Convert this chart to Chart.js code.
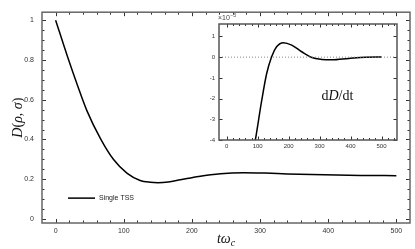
<!DOCTYPE html>
<html>
<head>
<meta charset="utf-8">
<script src="https://cdn.jsdelivr.net/npm/chart.js@4/dist/chart.umd.min.js"></script>
<style>
  html, body { margin: 0; padding: 0; background: #fff; }
  #wrap { position: relative; width: 415px; height: 249px; }
  #main { position: absolute; left: 0; top: 0; }
  #inset { position: absolute; left: 200px; top: 10px; }
</style>
</head>
<body>
<div id="wrap">
  <canvas id="main" width="415" height="249"></canvas>
  <canvas id="inset" width="202" height="142"></canvas>
</div>
<script>
// ---------- data ----------
const timeMain = [0, 17, 32, 46, 66, 85, 105, 124, 139, 150, 165, 183, 210, 242, 275, 307, 340, 394, 448, 500];
const dMain    = [1.0, 0.821, 0.673, 0.544, 0.403, 0.299, 0.2295, 0.194, 0.185, 0.183, 0.186, 0.197, 0.214, 0.228, 0.233, 0.231, 0.227, 0.222, 0.219, 0.218];

const timeInset = [0, 20, 40, 60, 80, 93, 113, 129, 145, 161, 183, 210, 242, 275, 307, 340, 394, 448, 500];
const dInset    = [-11, -9.5, -7.8, -6.2, -5.0, -3.95, -2.09, -0.79, 0.02, 0.5, 0.70, 0.58, 0.26, -0.02, -0.11, -0.13, -0.06, 0.0, 0.01];

const mainXTicks = [0, 100, 200, 300, 400, 500];
const mainYTicks = [0, 0.2, 0.4, 0.6, 0.8, 1];
const mainXMinor = [20, 40, 60, 80, 120, 140, 160, 180, 220, 240, 260, 280, 320, 340, 360, 380, 420, 440, 460, 480];
const mainYMinor = [0.05, 0.1, 0.15, 0.25, 0.3, 0.35, 0.45, 0.5, 0.55, 0.65, 0.7, 0.75, 0.85, 0.9, 0.95];

const insetXTicks = [0, 100, 200, 300, 400, 500];
const insetYTicks = [-4, -3, -2, -1, 0, 1];
const insetXMinor = [20, 40, 60, 80, 120, 140, 160, 180, 220, 240, 260, 280, 320, 340, 360, 380, 420, 440, 460, 480, 520, 540];
const insetZeroX = [-25, 550];
const insetZeroY = [0, 0];

const legendLabel = 'Single TSS';

// ---------- helpers ----------
const pts = (xs, ys) => xs.map((v, i) => ({ x: v, y: ys[i] }));
const plainLabel = v => String(v);

function inwardTicks(cfg) {
  return {
    id: 'inwardTicks',
    afterDatasetsDraw(chart) {
      const { ctx, chartArea: a, scales: { x, y } } = chart;
      ctx.save();
      ctx.strokeStyle = cfg.tickColor;
      ctx.lineWidth = 1;
      const seg = (x1, y1, x2, y2) => { ctx.beginPath(); ctx.moveTo(x1, y1); ctx.lineTo(x2, y2); ctx.stroke(); };
      const doX = (vals, len) => vals.forEach(v => {
        const p = Math.round(x.getPixelForValue(v)) + 0.5;
        seg(p, a.bottom, p, a.bottom - len);
        seg(p, a.top, p, a.top + len);
      });
      const doY = (vals, len) => vals.forEach(v => {
        const p = Math.round(y.getPixelForValue(v)) + 0.5;
        seg(a.left, p, a.left + len, p);
        seg(a.right, p, a.right - len, p);
      });
      doX(cfg.xMajor, cfg.major); doX(cfg.xMinor, cfg.minor);
      doY(cfg.yMajor, cfg.major); doY(cfg.yMinor, cfg.minor);
      // frame
      ctx.strokeStyle = cfg.frameColor;
      ctx.lineWidth = cfg.frameWidth;
      ctx.strokeRect(a.left, a.top, a.right - a.left, a.bottom - a.top);
      ctx.restore();
    }
  };
}

function fixedTicks(values) {
  return function (scale) { scale.ticks = values.map(v => ({ value: v })); };
}

// ---------- main chart ----------
const mainDecor = {
  id: 'mainDecor',
  afterDraw(chart) {
    const { ctx, chartArea: a } = chart;
    ctx.save();
    // legend
    const ly = a.top + (a.bottom - a.top) * 0.882;
    const lx = a.left + 26;
    ctx.strokeStyle = '#000';
    ctx.lineWidth = 1.5;
    ctx.beginPath(); ctx.moveTo(lx, ly); ctx.lineTo(lx + 27, ly); ctx.stroke();
    ctx.fillStyle = '#222';
    ctx.font = '7px "Liberation Sans", Arial, sans-serif';
    ctx.textBaseline = 'middle';
    ctx.textAlign = 'left';
    ctx.fillText(legendLabel, lx + 31, ly);

    // y title  D(ρ, σ)
    ctx.fillStyle = '#111';
    ctx.translate(18, (a.top + a.bottom) / 2);
    ctx.rotate(-Math.PI / 2);
    const parts = [['D', 'italic 14px "Liberation Serif", serif'], ['(', '14px "Liberation Serif", serif'],
                   ['ρ', 'italic 14px "Liberation Serif", serif'], [', ', '14px "Liberation Serif", serif'],
                   ['σ', 'italic 14px "Liberation Serif", serif'], [')', '14px "Liberation Serif", serif']];
    let w = 0;
    parts.forEach(p => { ctx.font = p[1]; w += ctx.measureText(p[0]).width; });
    let cx = -w / 2;
    parts.forEach(p => { ctx.font = p[1]; ctx.fillText(p[0], cx, 0); cx += ctx.measureText(p[0]).width; });
    ctx.restore();

    // x title  tω_c
    ctx.save();
    ctx.fillStyle = '#111';
    ctx.textBaseline = 'alphabetic';
    ctx.textAlign = 'left';
    const mainF = 'italic 14px "Liberation Serif", serif';
    const subF = 'italic 10px "Liberation Serif", serif';
    ctx.font = mainF; const w1 = ctx.measureText('tω').width;
    ctx.font = subF; const w2 = ctx.measureText('c').width;
    const sx = (a.left + a.right) / 2 - (w1 + w2) / 2;
    const base = 243;
    ctx.font = mainF; ctx.fillText('tω', sx, base);
    ctx.font = subF; ctx.fillText('c', sx + w1, base + 3);
    ctx.restore();
  }
};

new Chart(document.getElementById('main'), {
  type: 'line',
  data: {
    datasets: [{
      label: legendLabel,
      data: pts(timeMain, dMain),
      borderColor: '#000',
      borderWidth: 1.5,
      pointRadius: 0,
      fill: false,
      cubicInterpolationMode: 'monotone'
    }]
  },
  options: {
    responsive: false,
    animation: false,
    events: [],
    layout: { autoPadding: false, padding: { top: 4, right: 5, left: 0, bottom: 0 } },
    plugins: { legend: { display: false }, tooltip: { enabled: false } },
    scales: {
      x: {
        type: 'linear', min: -20, max: 520,
        afterBuildTicks: fixedTicks(mainXTicks),
        afterFit: s => { s.height = 26; },
        grid: { display: false, drawTicks: false },
        border: { display: false },
        ticks: { callback: plainLabel, color: '#333', font: { family: '"Liberation Sans", Arial, sans-serif', size: 7 }, padding: 4, maxRotation: 0 }
      },
      y: {
        type: 'linear', min: -0.02, max: 1.04,
        afterBuildTicks: fixedTicks(mainYTicks),
        afterFit: s => { s.width = 42; },
        grid: { display: false, drawTicks: false },
        border: { display: false },
        ticks: { callback: plainLabel, color: '#333', font: { family: '"Liberation Sans", Arial, sans-serif', size: 7 }, padding: 8 }
      }
    }
  },
  plugins: [inwardTicks({ xMajor: mainXTicks, xMinor: mainXMinor, yMajor: mainYTicks, yMinor: mainYMinor,
                          major: 4, minor: 2.5, tickColor: '#333', frameColor: '#666', frameWidth: 1.5 }), mainDecor]
});

// ---------- inset chart ----------
const insetDecor = {
  id: 'insetDecor',
  afterDraw(chart) {
    const { ctx, chartArea: a } = chart;
    ctx.save();
    // ×10^-3
    ctx.fillStyle = '#444';
    ctx.textBaseline = 'alphabetic';
    ctx.font = '7px "Liberation Sans", Arial, sans-serif';
    const bx = a.left - 1;
    ctx.fillText('×10', bx, a.top - 4);
    const wb = ctx.measureText('×10').width;
    ctx.font = '5px "Liberation Sans", Arial, sans-serif';
    ctx.fillText('−3', bx + wb + 0.5, a.top - 7);

    // dD/dt label
    ctx.fillStyle = '#111';
    const up = '14px "Liberation Serif", serif';
    const it = 'italic 14px "Liberation Serif", serif';
    const parts = [['d', up], ['D', it], ['/', up], ['dt', up]];
    let w = 0;
    parts.forEach(p => { ctx.font = p[1]; w += ctx.measureText(p[0]).width; });
    let cx = a.left + (a.right - a.left) * 0.665 - w / 2;
    const cy = a.top + (a.bottom - a.top) * 0.62;
    ctx.textBaseline = 'middle';
    parts.forEach(p => { ctx.font = p[1]; ctx.fillText(p[0], cx, cy); cx += ctx.measureText(p[0]).width; });
    ctx.restore();
  }
};

new Chart(document.getElementById('inset'), {
  type: 'line',
  data: {
    datasets: [{
      data: pts(insetZeroX, insetZeroY),
      borderColor: '#888',
      borderWidth: 1,
      borderDash: [1, 2],
      pointRadius: 0,
      fill: false
    }, {
      data: pts(timeInset, dInset),
      borderColor: '#000',
      borderWidth: 1.5,
      pointRadius: 0,
      fill: false,
      cubicInterpolationMode: 'monotone'
    }]
  },
  options: {
    responsive: false,
    animation: false,
    events: [],
    layout: { autoPadding: false, padding: { top: 14, right: 5, left: 0, bottom: 0 } },
    plugins: { legend: { display: false }, tooltip: { enabled: false } },
    scales: {
      x: {
        type: 'linear', min: -25, max: 550,
        afterBuildTicks: fixedTicks(insetXTicks),
        afterFit: s => { s.height = 12; },
        grid: { display: false, drawTicks: false },
        border: { display: false },
        ticks: { callback: plainLabel, color: '#333', font: { family: '"Liberation Sans", Arial, sans-serif', size: 6 }, padding: 3, maxRotation: 0 }
      },
      y: {
        type: 'linear', min: -4, max: 1.6,
        afterBuildTicks: fixedTicks(insetYTicks),
        afterFit: s => { s.width = 19; },
        grid: { display: false, drawTicks: false },
        border: { display: false },
        ticks: { callback: plainLabel, color: '#333', font: { family: '"Liberation Sans", Arial, sans-serif', size: 6 }, padding: 4 }
      }
    }
  },
  plugins: [inwardTicks({ xMajor: insetXTicks, xMinor: insetXMinor, yMajor: insetYTicks, yMinor: [],
                          major: 3.5, minor: 2, tickColor: '#333', frameColor: '#555', frameWidth: 1.5 }), insetDecor]
});
</script>
</body>
</html>
